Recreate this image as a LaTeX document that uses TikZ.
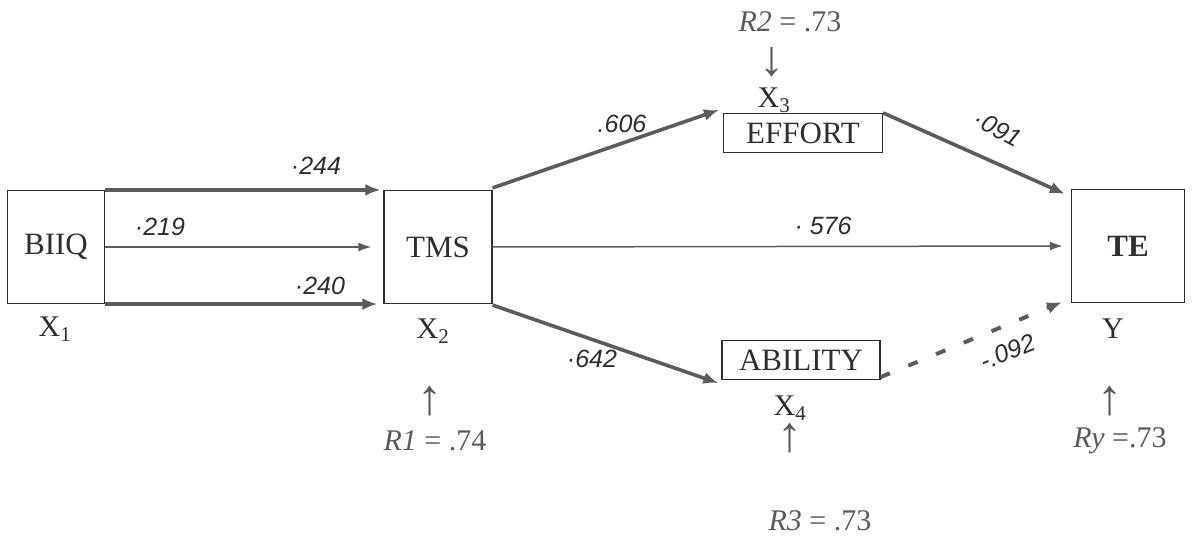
\documentclass[tikz,border=0pt]{standalone}
\usepackage{fontspec}
\setmainfont{Liberation Serif}
\newfontfamily\hand{Liberation Sans}
\usetikzlibrary{arrows.meta}
\definecolor{ink}{HTML}{2E2E2E}
\definecolor{arr}{HTML}{5C5C5C}
\definecolor{soft}{HTML}{5A5A5A}
\tikzset{
  box/.style={draw=ink, line width=1.2pt, inner sep=0pt, text=ink, font=\fontsize{31}{33}\selectfont},
  thickarr/.style={draw=arr, line width=3.6pt, -{Latex[length=15pt,width=12pt]}},
  thinarr/.style={draw=arr, line width=1.5pt, -{Latex[length=13pt,width=9pt]}},
  dasharr/.style={draw=arr, line width=4pt, dash pattern=on 10pt off 20pt, -{Latex[length=15pt,width=12pt]}},
  hw/.style={text=ink, inner sep=1pt, font=\hand\itshape\fontsize{25}{27}\selectfont},
  lab/.style={text=ink, font=\fontsize{30}{32}\selectfont},
  rlab/.style={text=soft, font=\fontsize{30}{32}\selectfont},
  uparr/.style={text=soft, font=\fontsize{50}{52}\selectfont},
}
\begin{document}
\begin{tikzpicture}[x=1pt,y=-1pt]
\useasboundingbox (0,0) rectangle (1195,537);
% boxes
\node[box, minimum width=97pt, minimum height=113pt] (biiq) at (56,247) {BIIQ};
\node[box, minimum width=108pt, minimum height=113pt] (tms) at (438,247) {TMS};
\node[box, minimum width=159pt, minimum height=39pt] (effort) at (803,133) {EFFORT};
\node[box, minimum width=158pt, minimum height=39pt] (ability) at (801,360) {ABILITY};
\node[box, minimum width=113pt, minimum height=113pt, font=\bfseries\fontsize{31}{33}\selectfont] (te) at (1128,246) {TE};
% arrows
\draw[thickarr] (biiq.north east) -- ([xshift=-3pt]tms.north west);
\draw[thinarr] (biiq.east) -- ([xshift=-12pt]tms.east -| tms.west);
\draw[thickarr] (biiq.south east) -- ([xshift=-6pt]tms.south west);
\draw[thickarr] ([yshift=2pt]tms.north east) -- ([xshift=-4pt,yshift=3pt]effort.north west);
\draw[thickarr] (effort.north east) -- ([xshift=-6pt,yshift=-5pt]te.north west);
\draw[thinarr] (tms.east) -- ([xshift=-8pt]te.west);
\draw[thickarr] ([yshift=-1pt]tms.south east) -- ([xshift=-3pt,yshift=-3pt]ability.south west);
\draw[dasharr] ([yshift=3pt]ability.south east) -- ([xshift=-9pt,yshift=1pt]te.south west);
% coefficient labels
\node[hw] (l244) at (316,166) {·244};
\node[hw] (l219) at (160,227) {·219};
\node[hw] (l240) at (320,286) {·240};
\node[hw] (l606) at (622,124) {.606};
\node[hw, rotate=-28] (l091) at (998,129) {·091};
\node[hw] (l576) at (823,226) {· 576};
\node[hw] (l642) at (592,359) {·642};
\node[hw, rotate=22] (l092) at (1008,352) {-.092};
% variable labels
\node[lab] (x1) at (55,329) {X\textsubscript{1}};
\node[lab] (x2) at (433,331) {X\textsubscript{2}};
\node[lab] (x3) at (774,100) {X\textsubscript{3}};
\node[lab] (x4) at (790,408) {X\textsubscript{4}};
\node[lab] (y) at (1113,329) {Y};
% R labels
\node[rlab] (r2) at (790,22) {\textit{R2} = .73};
\node[uparr] (a2) at (772,62) {↓};
\node[uparr] (a1) at (430,401) {↑};
\node[rlab] (r1) at (435,441) {\textit{R1} = .74};
\node[uparr] (a4) at (790,438) {↑};
\node[rlab] (r3) at (820,521) {\textit{R3} = .73};
\node[uparr] (ay) at (1110,401) {↑};
\node[rlab] (ry) at (1120,441) {\textit{Ry} =.73};
\end{tikzpicture}
\end{document}
